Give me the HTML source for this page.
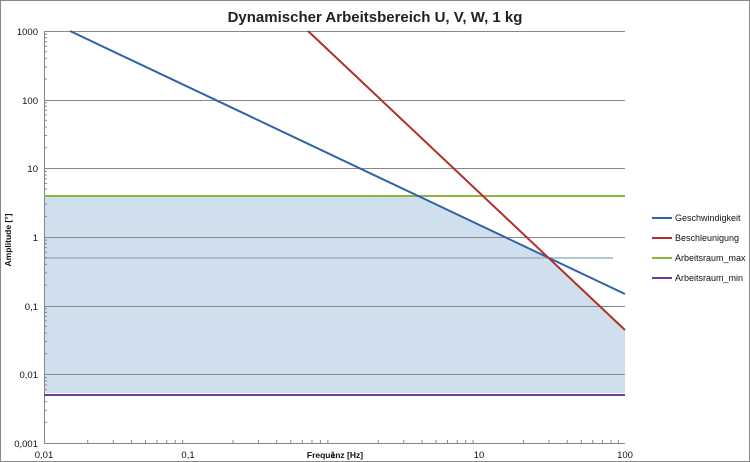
<!DOCTYPE html>
<html><head><meta charset="utf-8"><style>
html,body{margin:0;padding:0;background:#fff;}
svg{display:block;font-family:"Liberation Sans",sans-serif;}
</style></head><body>
<svg id="s" width="750" height="462" viewBox="0 0 750 462" xmlns="http://www.w3.org/2000/svg">
<rect x="0.5" y="0.5" width="749" height="461" fill="#fff" stroke="#888"/>
<text x="375" y="22" text-anchor="middle" font-size="15" font-weight="bold" fill="#222">Dynamischer Arbeitsbereich U, V, W, 1 kg</text>
<polygon points="44,196 415,196 547,258 625,330 625,393 44,393" fill="#d0dfee"/>
<g stroke="#888" stroke-width="1">
<line x1="44" y1="31.5" x2="625" y2="31.5"/>
<line x1="44" y1="100.5" x2="625" y2="100.5"/>
<line x1="44" y1="168.5" x2="625" y2="168.5"/>
<line x1="44" y1="237.5" x2="625" y2="237.5"/>
<line x1="44" y1="306.5" x2="625" y2="306.5"/>
<line x1="44" y1="374.5" x2="625" y2="374.5"/>
</g>
<line x1="44" y1="258" x2="613" y2="258" stroke="#9ab3cc" stroke-width="1.5"/>
<g id="ticks" stroke="#888" stroke-width="1"></g>
<line x1="44.5" y1="31" x2="44.5" y2="443" stroke="#888"/>
<line x1="44" y1="443.5" x2="625" y2="443.5" stroke="#888"/>
<line x1="44" y1="196" x2="625" y2="196" stroke="#8db43e" stroke-width="2"/>
<line x1="44" y1="395" x2="625" y2="395" stroke="#6a3d9a" stroke-width="2"/>
<line x1="70" y1="31" x2="625" y2="294" stroke="#2e64a8" stroke-width="2"/>
<line x1="308" y1="31" x2="625" y2="330" stroke="#b0302a" stroke-width="2"/>
<g font-size="9.5" fill="#111" text-anchor="end">
<text x="38" y="35">1000</text><text x="38" y="104">100</text><text x="38" y="172">10</text>
<text x="38" y="241">1</text><text x="38" y="310">0,1</text><text x="38" y="378">0,01</text><text x="38" y="447">0,001</text>
</g>
<g font-size="9.5" fill="#111" text-anchor="middle">
<text x="44" y="458">0,01</text><text x="188" y="458">0,1</text><text x="333" y="458">1</text>
<text x="479" y="458">10</text><text x="625" y="458">100</text>
<text x="335" y="458" font-size="8.5" font-weight="bold">Frequenz [Hz]</text>
</g>
<text transform="translate(11,240) rotate(-90)" font-size="8.5" font-weight="bold" text-anchor="middle" fill="#111">Amplitude [°]</text>
<g font-size="9" fill="#111">
<line x1="652" y1="218" x2="672" y2="218" stroke="#2e64a8" stroke-width="2"/><text x="675" y="221">Geschwindigkeit</text>
<line x1="652" y1="238" x2="672" y2="238" stroke="#b0302a" stroke-width="2"/><text x="675" y="241">Beschleunigung</text>
<line x1="652" y1="258" x2="672" y2="258" stroke="#8db43e" stroke-width="2"/><text x="675" y="261">Arbeitsraum_max</text>
<line x1="652" y1="278" x2="672" y2="278" stroke="#6a3d9a" stroke-width="2"/><text x="675" y="281">Arbeitsraum_min</text>
</g>
</svg>
<script>
var g=document.getElementById('ticks'),h='';
for(var d=0;d<6;d++){for(var k=2;k<10;k++){var y=443-68.67*d-68.67*Math.log10(k);h+='<line x1="44" x2="47" y1="'+y+'" y2="'+y+'"/>';}}
for(var d=0;d<4;d++){for(var k=2;k<10;k++){var x=44+145.25*d+145.25*Math.log10(k);h+='<line x1="'+x+'" x2="'+x+'" y1="440" y2="443"/>';}}
g.innerHTML=h;
</script>
</body></html>
